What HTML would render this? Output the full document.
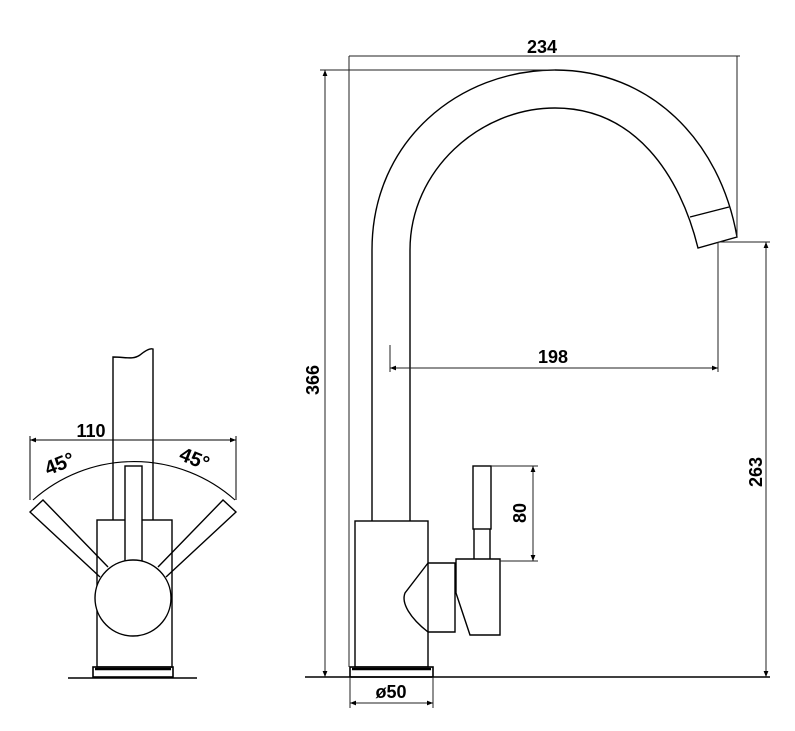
<!DOCTYPE html>
<html><head><style>
html,body{margin:0;padding:0;background:#fff;}
svg{display:block;}
text{font-family:"Liberation Sans",Arial,sans-serif;font-weight:bold;font-size:18px;fill:#000;}
</style></head><body>
<svg width="795" height="731" viewBox="0 0 795 731" xmlns="http://www.w3.org/2000/svg">
<defs>
<marker id="a" viewBox="0 0 10 10" refX="10" refY="5" markerWidth="9" markerHeight="6" orient="auto-start-reverse" markerUnits="userSpaceOnUse"><path d="M0,1 L10,5 L0,9 z" fill="#000"/></marker>
</defs>
<g fill="none" stroke="#000" stroke-width="1.4">
<!-- LEFT VIEW -->
<path d="M113,520 L113,357 C125,357 133,360 140,355 C146,350 150,348 153,349 L153,520"/>
<rect x="97" y="520" width="75" height="147" fill="#fff"/>
<rect x="125" y="466" width="17" height="95" fill="#fff"/>
<path d="M108,567 L43,500 L30,512 L100,577"/>
<path d="M158,567 L223,500 L236,512 L166,577"/>
<circle cx="133" cy="598" r="38" fill="#fff"/>
<rect x="93" y="667" width="80" height="10" stroke-width="1.6"/>
<line x1="95" y1="669" x2="171" y2="669" stroke-width="2.5"/>
<line x1="68" y1="678" x2="197" y2="678"/>
<path d="M33,500 A152,152 0 0 1 235,500" stroke-width="1.1"/>
<line x1="30" y1="440" x2="236" y2="440" marker-start="url(#a)" marker-end="url(#a)" stroke-width="1"/>
<line x1="30" y1="436" x2="30" y2="500" stroke-width="1"/>
<line x1="236" y1="436" x2="236" y2="500" stroke-width="1"/>

<!-- RIGHT VIEW spout -->
<path d="M372,521 L372,250 C372,140 460,70 555,70 C650,70 720,140 737,237 L698,248 C680,175 635,108 555,108 C480,108 410,170 410,250 L410,521"/>
<line x1="690" y1="217" x2="729" y2="207"/>
<rect x="355" y="521" width="73" height="146" fill="#fff"/>
<path d="M428,563 L405,593 C401,603 410,618 428,632"/>
<path d="M428,563 L455,563 L455,632 L428,632"/>
<path d="M456,559 L500,559 L500,635 L470,635 L456,593 Z" fill="#fff"/>
<rect x="473" y="466" width="18" height="63"/>
<path d="M474,529 L474,559 M490,529 L490,559"/>
<rect x="350" y="667" width="83" height="10" stroke-width="1.6"/>
<line x1="352" y1="669" x2="431" y2="669" stroke-width="2.5"/>
<line x1="305" y1="677" x2="770" y2="677"/>

<!-- dimensions -->
<g stroke-width="1" stroke="#222">
<line x1="349" y1="56" x2="740" y2="56"/>
<line x1="349" y1="56" x2="349" y2="667"/>
<line x1="737" y1="56" x2="737" y2="237"/>
<line x1="320" y1="70" x2="555" y2="70"/>
<line x1="325" y1="70" x2="325" y2="677" marker-start="url(#a)" marker-end="url(#a)"/>
<line x1="390" y1="345" x2="390" y2="372"/>
<line x1="718" y1="242" x2="718" y2="372"/>
<line x1="390" y1="368" x2="718" y2="368" marker-start="url(#a)" marker-end="url(#a)"/>
<line x1="718" y1="242" x2="770" y2="242"/>
<line x1="766" y1="242" x2="766" y2="677" marker-start="url(#a)" marker-end="url(#a)"/>
<line x1="491" y1="466" x2="538" y2="466"/>
<line x1="500" y1="561" x2="538" y2="561"/>
<line x1="533" y1="466" x2="533" y2="561" marker-start="url(#a)" marker-end="url(#a)"/>
<line x1="350" y1="677" x2="350" y2="708"/>
<line x1="433" y1="677" x2="433" y2="708"/>
<line x1="350" y1="703" x2="433" y2="703" marker-start="url(#a)" marker-end="url(#a)"/>
</g>
</g>
<text x="542" y="53" text-anchor="middle">234</text>
<text x="553" y="363" text-anchor="middle">198</text>
<text x="91" y="437" text-anchor="middle">110</text>
<text x="391" y="698" text-anchor="middle">ø50</text>
<text transform="translate(319,380) rotate(-90)" text-anchor="middle">366</text>
<text transform="translate(762,472) rotate(-90)" text-anchor="middle">263</text>
<text transform="translate(526,513) rotate(-90)" text-anchor="middle">80</text>
<text transform="translate(62,470) rotate(-22)" text-anchor="middle" style="font-size:20px">45°</text>
<text transform="translate(192,465) rotate(22)" text-anchor="middle" style="font-size:20px">45°</text>
</svg>
</body></html>
